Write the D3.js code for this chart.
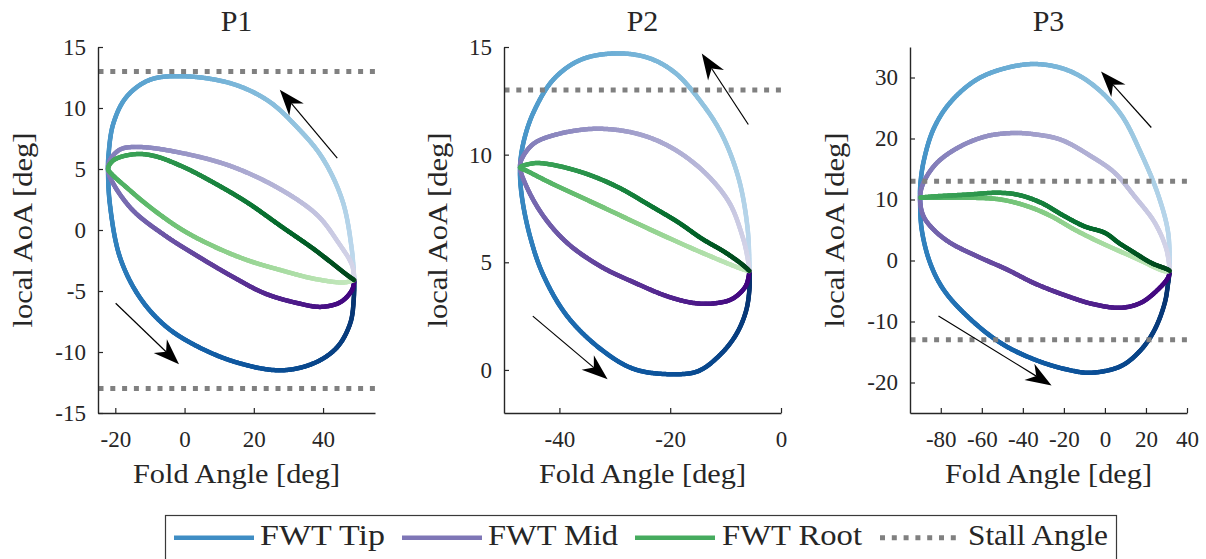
<!DOCTYPE html>
<html>
<head>
<meta charset="utf-8">
<script src="https://cdn.jsdelivr.net/npm/d3@7"></script>
<style>
  body { margin: 0; background: #fff; }
</style>
</head>
<body>
<svg id="chart" width="1206" height="559"></svg>
<script>
// ---- data -------------------------------------------------------------
const panelTitles = ["P1", "P2", "P3"];
const xDomains = [[-25, 55], [-50, 0], [-95, 40]];
const yDomains = [[-15, 15], [-2, 15], [-25, 35]];
const xTickValues = [[-20, 0, 20, 40], [-40, -20, 0], [-80, -60, -40, -20, 0, 20, 40]];
const yTickValues = [[-15, -10, -5, 0, 5, 10, 15], [0, 5, 10, 15], [-20, -10, 0, 10, 20, 30]];
const stallAngles = [[13, -13], [13], [13, -13]];

// Each loop is [fold angle, local AoA] in the order the cycle is traversed.
const tipP1 = [[49,-4.1],[48.3,-1.6],[45.6,2.4],[39.6,6.0],[31.9,8.6],[24.1,10.6],[13.6,12.0],[-0.3,12.6],[-10.1,12.3],[-16.8,10.9],[-20.6,8.7],[-22,6.0],[-22.1,4.9],[-21.6,2.2],[-18.7,-2.2],[-13,-5.5],[-5.4,-7.9],[4.1,-9.6],[15.6,-10.9],[27.9,-11.5],[37.5,-10.9],[44.1,-9.6],[47.9,-7.6],[48.9,-5.5],[49,-4.1]];
const midP1 = [[49,-4.1],[48.4,-2.9],[44.1,-0.9],[38.4,1.2],[27.9,3.3],[13.7,5.2],[-0.6,6.3],[-13,6.8],[-18.6,6.6],[-21.6,5.7],[-22.1,4.9],[-20.6,3.8],[-14.9,1.6],[-5.4,-0.5],[4.1,-2.2],[13.7,-3.8],[23.2,-5.2],[32.7,-6.0],[39.4,-6.3],[45.1,-5.9],[48.4,-4.9],[49,-4.1]];
const rootP1 = [[49,-4.1],[46,-4.3],[37.5,-4.0],[27.9,-3.3],[18.4,-2.5],[8.9,-1.4],[-0.6,0],[-10.1,1.9],[-16.8,3.5],[-21.1,4.6],[-22.1,5.0],[-20.6,5.7],[-14.9,6.2],[-9.2,6.1],[-0.6,5.2],[8.9,3.8],[18.4,2.2],[27.9,0.3],[37.5,-1.6],[47,-3.7],[49,-4.1]];

const tipP2 = [[-5.7,4.6],[-6.0,6.5],[-7.6,8.85],[-10.6,10.9],[-14.3,12.4],[-19.1,13.8],[-24,14.5],[-30.1,14.7],[-36.2,14.4],[-41.05,13.5],[-44.7,11.95],[-46.5,10.55],[-47.1,9.4],[-46.8,8.1],[-45.3,6.2],[-42.9,4.4],[-38.6,2.5],[-32.5,0.96],[-26.4,0.03],[-19.1,-0.2],[-14.9,-0.05],[-11.2,0.65],[-8.2,1.6],[-6.35,2.7],[-5.7,3.75],[-5.7,4.6]];
const midP2 = [[-5.7,4.6],[-6.1,5.3],[-6.95,6.2],[-9.4,7.8],[-14.3,9.3],[-20.3,10.4],[-26.4,11.0],[-33.7,11.2],[-41.05,10.9],[-44.7,10.5],[-46.8,9.8],[-47.1,9.4],[-45.9,8.5],[-42.9,7.15],[-38.6,5.9],[-32.5,4.8],[-26.4,4.05],[-20.3,3.4],[-15.5,3.1],[-11.8,3.1],[-8.8,3.3],[-6.35,3.9],[-5.7,4.6]];
const rootP2 = [[-5.7,4.6],[-6.6,4.65],[-14.3,5.45],[-23.4,6.5],[-32.5,7.6],[-41.7,8.7],[-45.9,9.25],[-47.1,9.4],[-44.7,9.6],[-41.7,9.55],[-35.6,9.15],[-29.5,8.5],[-23.4,7.6],[-18.5,6.85],[-14.3,6.1],[-10,5.45],[-7,4.9],[-5.7,4.6]];

const tipP3 = [[31.6,-1.7],[30.8,4.6],[25.9,10.8],[17.7,17.5],[7.9,23.9],[-5.1,28.6],[-18.2,31.2],[-32.9,32.2],[-47.6,31.6],[-62.3,29.7],[-75.4,25.9],[-83.6,21.5],[-88.5,16.0],[-90.0,12.2],[-90.1,10.3],[-89.3,5.1],[-85.2,-0.4],[-78.7,-4.75],[-67.2,-9.1],[-50.9,-13.5],[-34.6,-16.2],[-18.2,-17.9],[-6.8,-18.4],[7.9,-17.3],[17.7,-14.6],[24.3,-11.3],[29.2,-6.9],[30.8,-3.7],[31.6,-1.7]];
const midP3 = [[31.6,-1.7],[30,1.8],[24.3,6.2],[14.5,10.5],[4.7,14.4],[-6.8,17.1],[-21.5,19.8],[-34.6,20.7],[-44.4,20.9],[-57.4,20.4],[-70.5,18.7],[-81.9,16.0],[-88.5,12.7],[-90.1,10.3],[-88.5,7.3],[-83.6,5.1],[-75.4,2.9],[-62.3,0.7],[-47.6,-1.5],[-34.6,-3.7],[-18.2,-5.85],[-5.1,-7.2],[7.9,-7.75],[17.7,-6.9],[25.9,-4.75],[30.8,-2.8],[31.6,-1.7]];
const rootP3 = [[31.6,-1.7],[29.2,-1.75],[14.5,0.45],[-1.9,2.9],[-15,5.1],[-26.4,7.3],[-37.8,8.9],[-50.9,10.0],[-67.2,10.3],[-83.6,10.3],[-90.1,10.3],[-83.6,10.5],[-67.2,10.8],[-52.5,11.1],[-42.7,10.8],[-31.3,9.5],[-19.9,7.3],[-10,5.6],[0.2,4.5],[6.7,2.9],[14.5,1.25],[22.6,-0.4],[30.8,-1.5],[31.6,-1.7]];

const tipLoops = [tipP1, tipP2, tipP3];
const midLoops = [midP1, midP2, midP3];
const rootLoops = [rootP1, rootP2, rootP3];

// Direction-of-travel arrows, [tail, head] in data units.
const arrowsP1 = [[[44.1, 5.9], [27.5, 11.5]], [[-19.9, -6], [-1.6, -11]]];
const arrowsP2 = [[[-5.9, 11.4], [-14.3, 14.7]], [[-44.8, 2.5], [-31.3, -0.43]]];
const arrowsP3 = [[[22.6, 21.8], [-1.9, 31.0]], [[-81.1, -9.1], [-26, -20.5]]];
const panelArrows = [arrowsP1, arrowsP2, arrowsP3];

const legendLabels = ["FWT Tip", "FWT Mid", "FWT Root", "Stall Angle"];

// ---- layout / style ---------------------------------------------------
const svg = d3.select("#chart");
const plotTop = 47, plotBottom = 413;
const axisLefts = [98, 504, 910];
const axisWidth = 277;
const yLabelOffsets = [66, 57, 66];
const axisColor = "#262626";
const fontFamily = "'Liberation Serif'";
const ramps = [d3.interpolateBlues, d3.interpolatePurples, d3.interpolateGreens];
const rampStart = 0.25;
const loopWidth = 4.5;
const stallStyle = { color: "#808080", width: 5, dash: "5 6.8" };

// apply the serif face and a size to a text selection
function serif(sel, size) {
  return sel.style("font-family", fontFamily).style("font-size", size + "px").style("fill", axisColor);
}

const measure = svg.append("path").attr("fill", "none").attr("stroke", "none");

// Draw a path whose colour runs along its length through a colour ramp.
function drawRampedLoop(g, pts, x, y, ramp) {
  const line = d3.line().x(d => x(d[0])).y(d => y(d[1])).curve(d3.curveCatmullRom.alpha(0.5));
  measure.attr("d", line(pts));
  const node = measure.node();
  const len = node.getTotalLength();
  const n = Math.ceil(len / 1.2);
  const samples = d3.range(n + 1).map(i => node.getPointAtLength(len * i / n));
  const segs = d3.range(n).map(i => ({ a: samples[i], b: samples[i + 1], t: rampStart + (1 - rampStart) * (i + 0.5) / n }));
  g.append("g").selectAll("line").data(segs).join("line")
    .attr("x1", d => d.a.x).attr("y1", d => d.a.y)
    .attr("x2", d => d.b.x).attr("y2", d => d.b.y)
    .attr("stroke", d => ramp(d.t))
    .attr("stroke-width", loopWidth)
    .attr("stroke-linecap", "round");
}

function drawArrow(g, tail, head, x, y) {
  const x1 = x(tail[0]), y1 = y(tail[1]), x2 = x(head[0]), y2 = y(head[1]);
  const ang = Math.atan2(y2 - y1, x2 - x1);
  const L = 26, notch = 18, hw = 9.5;
  const c = Math.cos(ang), s = Math.sin(ang);
  const pt = (u, v) => [x2 + u * c - v * s, y2 + u * s + v * c];
  const nb = pt(-notch, 0);
  g.append("line").attr("x1", x1).attr("y1", y1).attr("x2", nb[0]).attr("y2", nb[1])
    .attr("stroke", "#000").attr("stroke-width", 1.2);
  g.append("polygon")
    .attr("points", [pt(0, 0), pt(-L, hw), nb, pt(-L, -hw)].map(p => p.join(",")).join(" "))
    .attr("fill", "#000");
}

panelTitles.forEach((title, i) => {
  const left = axisLefts[i];
  const x = d3.scaleLinear().domain(xDomains[i]).range([left, left + axisWidth]);
  const y = d3.scaleLinear().domain(yDomains[i]).range([plotBottom, plotTop]);
  const g = svg.append("g");

  // loops: tip, then mid, then root on top
  [tipLoops, midLoops, rootLoops].forEach((loops, k) => drawRampedLoop(g, loops[i], x, y, ramps[k]));

  // stall angle lines
  g.append("g").selectAll("line").data(stallAngles[i]).join("line")
    .attr("x1", x.range()[0] + 0.5).attr("x2", x.range()[1])
    .attr("y1", d => y(d)).attr("y2", d => y(d))
    .attr("stroke", stallStyle.color).attr("stroke-width", stallStyle.width)
    .attr("stroke-dasharray", stallStyle.dash);

  // arrows
  panelArrows[i].forEach(a => drawArrow(g, a[0], a[1], x, y));

  // axes with inward ticks
  const fmt = d => String(d);
  const ax = g.append("g").attr("transform", `translate(0,${plotBottom})`)
    .call(d3.axisBottom(x).tickValues(xTickValues[i]).tickFormat(fmt).tickSizeInner(-5).tickSizeOuter(0).tickPadding(18));
  const ay = g.append("g").attr("transform", `translate(${left},0)`)
    .call(d3.axisLeft(y).tickValues(yTickValues[i]).tickFormat(fmt).tickSizeInner(-5).tickSizeOuter(0).tickPadding(12));
  [ax, ay].forEach(a => {
    a.attr("font-family", null).attr("font-size", null);
    a.select(".domain").attr("stroke", axisColor).attr("stroke-width", 1.4);
    a.selectAll(".tick line").attr("stroke", axisColor).attr("stroke-width", 1.2);
    serif(a.selectAll(".tick text"), 23);
  });

  // title and axis labels
  const cx = left + axisWidth / 2;
  serif(g.append("text").attr("x", cx).attr("y", 31).attr("text-anchor", "middle"), 30).text(title);
  serif(g.append("text").attr("x", cx).attr("y", 483).attr("text-anchor", "middle"), 28)
    .attr("textLength", 207).attr("lengthAdjust", "spacingAndGlyphs")
    .text("Fold Angle [deg]");
  serif(g.append("text")
    .attr("transform", `translate(${left - yLabelOffsets[i]},${(plotTop + plotBottom) / 2}) rotate(-90)`)
    .attr("text-anchor", "middle"), 28)
    .attr("textLength", 195).attr("lengthAdjust", "spacingAndGlyphs")
    .text("local AoA [deg]");
});

// ---- legend -----------------------------------------------------------
const legend = svg.append("g");
legend.append("rect").attr("x", 165.5).attr("y", 515.5).attr("width", 951).attr("height", 60)
  .attr("fill", "#fff").attr("stroke", "#3a3a3a").attr("stroke-width", 1.2);
const legendItems = [
  { x0: 174, x1: 254, tx: 260, w: 125, color: d3.interpolateBlues(0.64) },
  { x0: 402, x1: 482, tx: 488, w: 130, color: d3.interpolatePurples(0.64) },
  { x0: 635, x1: 715, tx: 722, w: 140, color: d3.interpolateGreens(0.62) },
  { x0: 880, x1: 960, tx: 968, w: 140, color: stallStyle.color, dash: true }
];
legendItems.forEach((it, k) => {
  const ln = legend.append("line").attr("x1", it.x0).attr("x2", it.x1).attr("y1", 537.7).attr("y2", 537.7)
    .attr("stroke", it.color).attr("stroke-width", it.dash ? stallStyle.width : loopWidth);
  if (it.dash) ln.attr("stroke-dasharray", stallStyle.dash);
  serif(legend.append("text").attr("x", it.tx).attr("y", 545), 30)
    .attr("textLength", it.w).attr("lengthAdjust", "spacingAndGlyphs").text(legendLabels[k]);
});
</script>
</body>
</html>
